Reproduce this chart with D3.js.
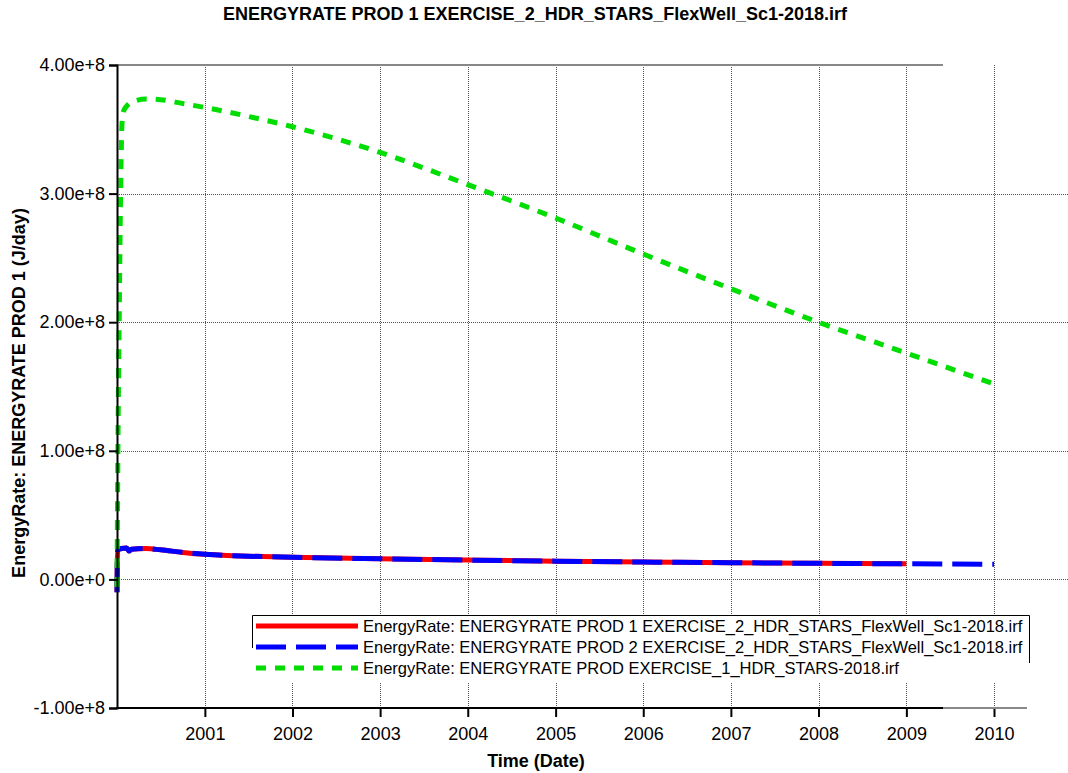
<!DOCTYPE html>
<html>
<head>
<meta charset="utf-8">
<script src="https://cdn.jsdelivr.net/npm/d3@7/dist/d3.min.js"></script>
<style>
  body { margin: 0; background: #fff; }
  svg { display: block; font-family: "Liberation Sans", Arial, sans-serif; }
  .grid line { stroke: #555; stroke-width: 1; stroke-dasharray: 1,1; shape-rendering: crispEdges; }
</style>
</head>
<body>
<svg class="energy_chart" width="1068" height="773"></svg>
<script>
// Data
var green_dates = ["2000-01-01", "2000-01-03", "2000-01-05", "2000-01-10", "2000-01-16", "2000-01-22",
    "2000-01-28", "2000-02-15", "2000-03-15", "2000-05-01", "2000-07-01", "2000-10-01",
    "2001-01-01", "2001-07-01", "2002-01-01", "2003-01-01", "2004-01-01", "2005-01-01",
    "2006-01-01", "2007-01-01", "2008-01-01", "2009-01-01", "2009-12-31"];
var green_values = [-0.06e8, 0.5e8, 1.05e8, 2.0e8, 3.0e8, 3.55e8,
    3.64e8, 3.69e8, 3.72e8, 3.735e8, 3.73e8, 3.70e8,
    3.67e8, 3.60e8, 3.52e8, 3.32e8, 3.07e8, 2.81e8,
    2.53e8, 2.26e8, 2.00e8, 1.76e8, 1.52e8];

var prod_dates = ["2000-01-01", "2000-01-02", "2000-01-04", "2000-01-20", "2000-02-10", "2000-02-20",
    "2000-03-01", "2000-05-01", "2000-07-01", "2000-10-01", "2001-01-01", "2002-01-01",
    "2003-01-01", "2004-01-01", "2005-01-01", "2006-01-01", "2007-01-01", "2008-01-01",
    "2009-01-01", "2010-01-01"];
var prod1_values = [-0.10e8, 0.10e8, 0.23e8, 0.24e8, 0.245e8, 0.22e8,
    0.235e8, 0.24e8, 0.23e8, 0.21e8, 0.195e8, 0.172e8,
    0.16e8, 0.15e8, 0.142e8, 0.135e8, 0.13e8, 0.125e8,
    0.121e8, null];
var prod2_values = [-0.10e8, 0.10e8, 0.23e8, 0.24e8, 0.245e8, 0.22e8,
    0.235e8, 0.24e8, 0.23e8, 0.21e8, 0.195e8, 0.172e8,
    0.16e8, 0.15e8, 0.142e8, 0.135e8, 0.13e8, 0.125e8,
    0.121e8, 0.117e8];

var series_names = [
    "EnergyRate: ENERGYRATE PROD 1 EXERCISE_2_HDR_STARS_FlexWell_Sc1-2018.irf",
    "EnergyRate: ENERGYRATE PROD 2 EXERCISE_2_HDR_STARS_FlexWell_Sc1-2018.irf",
    "EnergyRate: ENERGYRATE PROD EXERCISE_1_HDR_STARS-2018.irf"
];
var series_colours = ["#ff0000", "#0000ff", "#00dd00"];
var series_dashes = [null, "30,10", "10,9"];

var x_tick_years = [2001, 2002, 2003, 2004, 2005, 2006, 2007, 2008, 2009, 2010];
var y_tick_values = [-1e8, 0, 1e8, 2e8, 3e8, 4e8];
var y_tick_labels = ["-1.00e+8", "0.00e+0", "1.00e+8", "2.00e+8", "3.00e+8", "4.00e+8"];

var title_text = "ENERGYRATE PROD 1 EXERCISE_2_HDR_STARS_FlexWell_Sc1-2018.irf";
var y_title_text = "EnergyRate: ENERGYRATE PROD 1 (J/day)";
var x_title_text = "Time (Date)";

// Layout
var plot_left = 117, plot_top = 65, plot_bottom = 708,
    axis_black_end = 943, axis_grey_end = 1027, grid_end = 1068;

var parse = d3.timeParse("%Y-%m-%d");

var x = d3.scaleTime()
    .domain([parse("2000-01-01"), parse("2010-01-01")])
    .range([plot_left, 994]);

var y = d3.scaleLinear()
    .domain([-1e8, 4e8])
    .range([plot_bottom, plot_top]);

var svg = d3.select("svg.energy_chart");

// Grid
var grid = svg.append("g").attr("class", "grid");
grid.selectAll("line.v")
    .data(x_tick_years)
    .enter().append("line")
    .attr("class", "v")
    .attr("x1", function(d) { return Math.round(x(new Date(d, 0, 1))) + 0.5; })
    .attr("x2", function(d) { return Math.round(x(new Date(d, 0, 1))) + 0.5; })
    .attr("y1", plot_top)
    .attr("y2", plot_bottom);
grid.selectAll("line.h")
    .data(y_tick_values.filter(function(d) { return d > -1e8 && d < 4e8; }))
    .enter().append("line")
    .attr("class", "h")
    .attr("x1", plot_left)
    .attr("x2", grid_end)
    .attr("y1", function(d) { return Math.round(y(d)) + 0.5; })
    .attr("y2", function(d) { return Math.round(y(d)) + 0.5; });

// top border
svg.append("line")
    .attr("x1", plot_left).attr("x2", axis_black_end)
    .attr("y1", plot_top).attr("y2", plot_top)
    .attr("stroke", "#888").attr("stroke-width", 2);

// Lines
var line = d3.line()
    .defined(function(d) { return d.v !== null; })
    .x(function(d) { return x(d.t); })
    .y(function(d) { return y(d.v); })
    .curve(d3.curveMonotoneX);

function zip(dates, values) {
    return dates.map(function(d, i) { return { t: parse(d), v: values[i] }; });
}

var series = [zip(prod_dates, prod1_values), zip(prod_dates, prod2_values), zip(green_dates, green_values)];

svg.append("g")
    .selectAll("path")
    .data(series)
    .enter().append("path")
    .attr("d", line)
    .attr("fill", "none")
    .attr("stroke", function(d, i) { return series_colours[i]; })
    .attr("stroke-width", 5)
    .attr("stroke-dasharray", function(d, i) { return series_dashes[i]; });

// Axes
var yAxis = d3.axisLeft(y)
    .tickValues(y_tick_values)
    .tickFormat(function(d, i) { return y_tick_labels[i]; })
    .tickSizeOuter(0)
    .tickSize(8)
    .tickPadding(4);

var gy = svg.append("g")
    .attr("transform", "translate(" + plot_left + ",0)")
    .call(yAxis);
gy.select(".domain").attr("stroke-width", 2);
gy.selectAll(".tick line").attr("stroke-width", 2);
gy.selectAll(".tick text")
    .attr("font-size", 18)
    .attr("font-family", "Liberation Sans, Arial, sans-serif")
    .attr("fill", "#000");

var xAxis = d3.axisBottom(x)
    .tickValues(x_tick_years.map(function(d) { return new Date(d, 0, 1); }))
    .tickFormat(d3.timeFormat("%Y"))
    .tickSizeOuter(0)
    .tickSize(9)
    .tickPadding(10);

var gx = svg.append("g")
    .attr("transform", "translate(0," + plot_bottom + ")")
    .call(xAxis);
gx.select(".domain").remove();
gx.selectAll(".tick line").attr("stroke-width", 2);
gx.selectAll(".tick text")
    .attr("font-size", 18)
    .attr("font-family", "Liberation Sans, Arial, sans-serif")
    .attr("fill", "#000");

svg.append("line")
    .attr("x1", axis_black_end).attr("x2", axis_grey_end)
    .attr("y1", plot_bottom).attr("y2", plot_bottom)
    .attr("stroke", "#888").attr("stroke-width", 2);
svg.append("line")
    .attr("x1", plot_left - 1).attr("x2", axis_black_end)
    .attr("y1", plot_bottom).attr("y2", plot_bottom)
    .attr("stroke", "#000").attr("stroke-width", 2);

// Legend
var legend = svg.append("g");
legend.append("rect")
    .attr("x", 252).attr("y", 615)
    .attr("width", 778).attr("height", 68)
    .attr("fill", "#fff");
legend.append("path")
    .attr("d", "M252.5,648V615.5H1029.5V663")
    .attr("fill", "none")
    .attr("stroke", "#000")
    .attr("stroke-width", 1);

var items = legend.selectAll("g.item")
    .data(series_names)
    .enter().append("g")
    .attr("class", "item")
    .attr("transform", function(d, i) { return "translate(0," + (626 + i * 21) + ")"; });
items.append("line")
    .attr("x1", 256).attr("x2", 358)
    .attr("stroke", function(d, i) { return series_colours[i]; })
    .attr("stroke-width", 5)
    .attr("stroke-dasharray", function(d, i) { return series_dashes[i]; });
items.append("text")
    .attr("x", 363)
    .attr("dy", "0.35em")
    .attr("font-size", 16.5)
    .text(function(d) { return d; });

// Titles
svg.append("text")
    .attr("x", 535).attr("y", 20)
    .attr("text-anchor", "middle")
    .attr("font-size", 18)
    .attr("font-weight", "bold")
    .text(title_text);

svg.append("text")
    .attr("transform", "translate(25,393) rotate(-90)")
    .attr("text-anchor", "middle")
    .attr("font-size", 18)
    .attr("font-weight", "bold")
    .text(y_title_text);

svg.append("text")
    .attr("x", 536).attr("y", 767)
    .attr("text-anchor", "middle")
    .attr("font-size", 18)
    .attr("font-weight", "bold")
    .text(x_title_text);
</script>
</body>
</html>
